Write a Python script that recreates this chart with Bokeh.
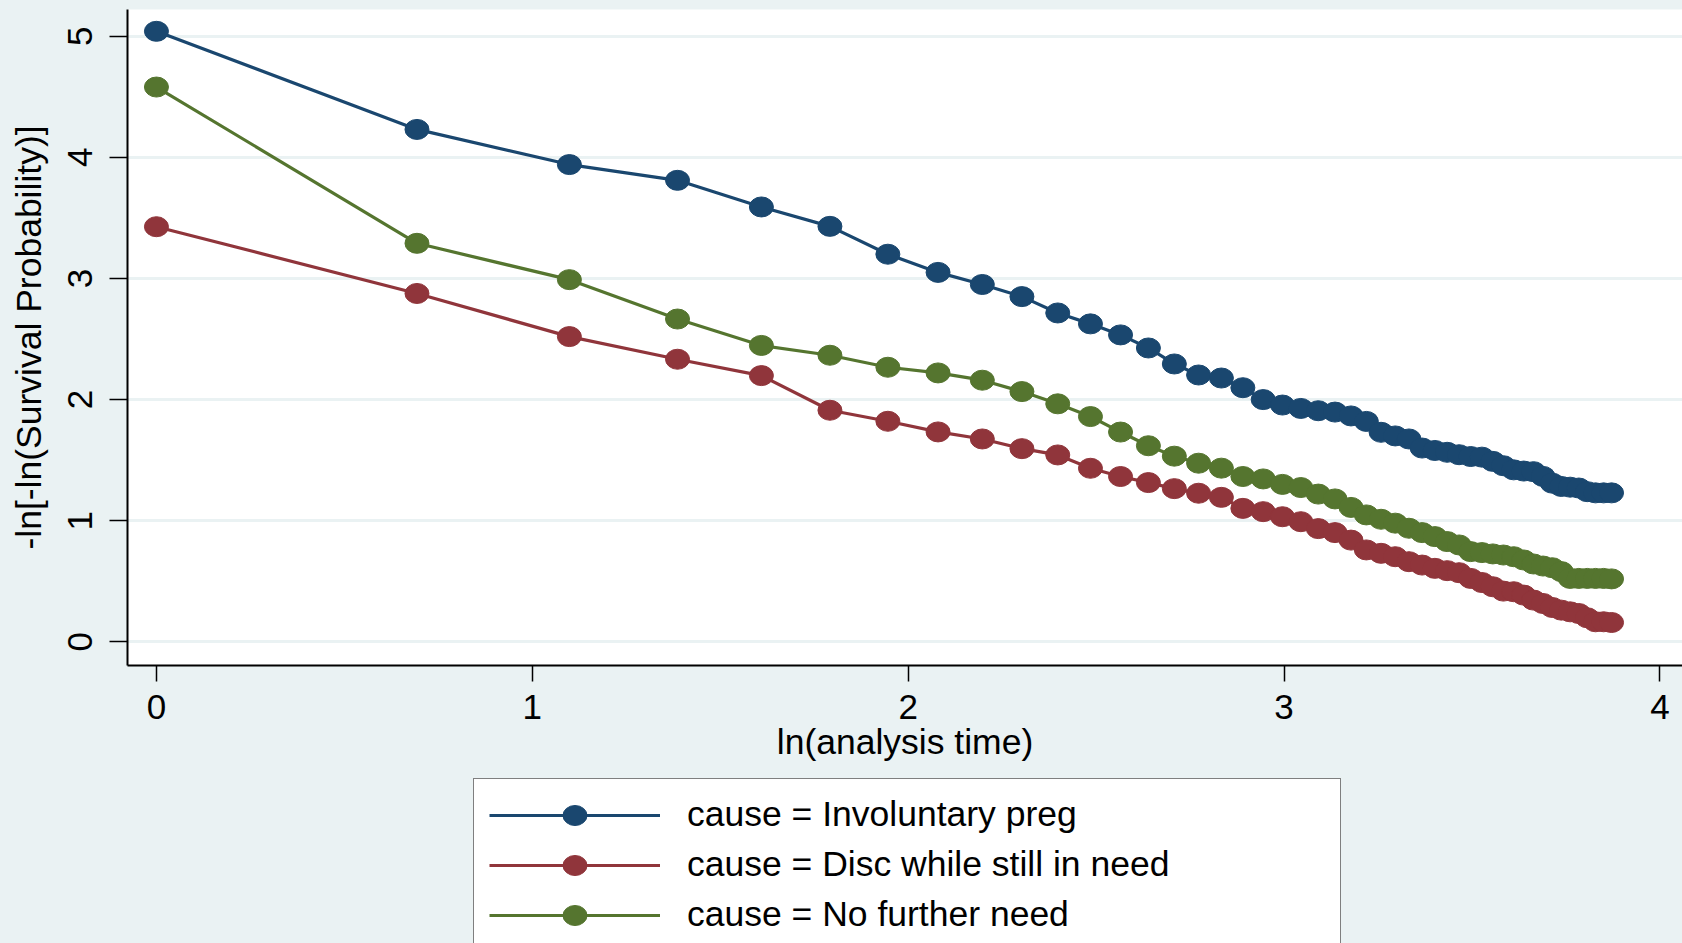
import numpy as np
from bokeh.plotting import figure
from bokeh.layouts import column
from bokeh.models import Range1d, Legend, LegendItem, FixedTicker
from bokeh.embed import file_html
from bokeh.resources import INLINE

# analysis time (months) and the -ln[-ln(S)] estimates per cause
months = [1, 2, 3, 4, 5, 6, 7, 8, 9, 10, 11, 12, 13, 14, 15, 16, 17, 18, 19, 20,
          21, 22, 23, 24, 25, 26, 27, 28, 29, 30, 31, 32, 33, 34, 35, 36, 37, 38,
          39, 40, 41, 42, 43, 44, 45, 46, 47, 48]

involuntary_preg = [5.04, 4.23, 3.94, 3.81, 3.59, 3.43, 3.20, 3.05, 2.95, 2.85,
                    2.715, 2.625, 2.534, 2.426, 2.294, 2.203, 2.178, 2.098, 2.00, 1.955,
                    1.927, 1.908, 1.897, 1.865, 1.82, 1.73, 1.70, 1.675, 1.60, 1.58,
                    1.565, 1.545, 1.53, 1.525, 1.49, 1.454, 1.42, 1.41, 1.405, 1.366,
                    1.31, 1.283, 1.277, 1.27, 1.24, 1.23, 1.23, 1.23]

disc_still_in_need = [3.427, 2.876, 2.52, 2.333, 2.198, 1.912, 1.821, 1.733, 1.675, 1.595,
                      1.543, 1.433, 1.365, 1.315, 1.265, 1.227, 1.193, 1.102, 1.075, 1.033,
                      0.992, 0.935, 0.902, 0.84, 0.759, 0.731, 0.703, 0.662, 0.634, 0.607,
                      0.588, 0.571, 0.524, 0.49, 0.455, 0.419, 0.414, 0.386, 0.345, 0.317,
                      0.284, 0.262, 0.248, 0.234, 0.199, 0.166, 0.166, 0.16]

no_further_need = [4.58, 3.29, 2.99, 2.665, 2.447, 2.366, 2.267, 2.22, 2.16, 2.066,
                   1.965, 1.86, 1.732, 1.619, 1.533, 1.475, 1.434, 1.365, 1.345, 1.30,
                   1.274, 1.22, 1.18, 1.11, 1.048, 1.012, 0.98, 0.938, 0.902, 0.869,
                   0.828, 0.80, 0.745, 0.737, 0.726, 0.717, 0.703, 0.676, 0.643, 0.626,
                   0.612, 0.58, 0.524, 0.524, 0.524, 0.524, 0.524, 0.52]

series_labels = ["cause = Involuntary preg",
                 "cause = Disc while still in need",
                 "cause = No further need"]
series_values = [involuntary_preg, disc_still_in_need, no_further_need]
series_colors = ["#1A476F", "#90353B", "#55752F"]

x_ticks = [0, 1, 2, 3, 4]
y_ticks = [0, 1, 2, 3, 4, 5]

x_title = "ln(analysis time)"
y_title = "-ln[-ln(Survival Probability)]"

FONT = "Liberation Sans"
BG = "#EAF2F3"
TOP_H = 776
LEG_H = 943 - TOP_H

ln_time = np.log(np.array(months, dtype=float))

p = figure(width=1682, height=TOP_H, output_backend="svg", toolbar_location=None,
           x_range=Range1d(-0.077, 4.06), y_range=Range1d(-0.195, 5.22),
           min_border_left=127, min_border_right=0, min_border_top=9,
           min_border_bottom=TOP_H - 665,
           background_fill_color="white", border_fill_color=BG,
           outline_line_color=None)

# grid
p.xgrid.visible = False
p.ygrid.ticker = FixedTicker(ticks=y_ticks)
p.ygrid.grid_line_color = BG
p.ygrid.grid_line_width = 3

# axes
for ax in (p.xaxis[0], p.yaxis[0]):
    ax.axis_line_color = "black"
    ax.axis_line_width = 2
    ax.major_tick_line_color = "black"
    ax.major_tick_line_width = 1.5
    ax.major_tick_in = 0
    ax.minor_tick_line_color = None
    ax.major_label_text_font = FONT
    ax.major_label_text_font_size = "35px"
    ax.major_label_text_color = "black"
    ax.axis_label_text_font = FONT
    ax.axis_label_text_font_size = "35.5px"
    ax.axis_label_text_font_style = "normal"
    ax.axis_label_text_color = "black"

p.xaxis.ticker = FixedTicker(ticks=x_ticks)
p.xaxis.major_tick_out = 16
p.xaxis.major_label_standoff = 13
p.xaxis.axis_label = x_title
p.xaxis.axis_label_standoff = 0

p.yaxis.ticker = FixedTicker(ticks=y_ticks)
p.yaxis.major_tick_out = 18
p.yaxis.major_label_orientation = "vertical"
p.yaxis.major_label_standoff = 17
p.yaxis.axis_label = y_title
p.yaxis.axis_label_standoff = 17

for vals, col in zip(series_values, series_colors):
    p.line(ln_time, vals, line_color=col, line_width=3.2)
    p.ellipse(ln_time, vals, width=24, height=20,
              width_units="screen", height_units="screen",
              fill_color=col, line_color=col)

# legend strip below the plot (same series, viewed outside its range so only the key shows)
q = figure(width=1682, height=LEG_H, output_backend="svg", toolbar_location=None,
           x_range=Range1d(100, 101), y_range=Range1d(100, 101),
           x_axis_type=None, y_axis_type=None,
           min_border_left=0, min_border_right=0, min_border_top=0, min_border_bottom=0,
           background_fill_color=BG, border_fill_color=BG, outline_line_color=None)
q.xgrid.visible = False
q.ygrid.visible = False

items = []
for label, vals, col in zip(series_labels, series_values, series_colors):
    ln = q.line(ln_time, vals, line_color=col, line_width=3.2)
    mk = q.ellipse(ln_time, vals, width=24, height=20,
                   width_units="screen", height_units="screen",
                   fill_color=col, line_color=col)
    items.append(LegendItem(label=label, renderers=[ln, mk]))

legend = Legend(items=items, location=(346, -8), orientation="vertical",
                padding=15, spacing=9, margin=0,
                glyph_width=171, glyph_height=30, label_height=30,
                label_width=638, label_standoff=27,
                label_text_font=FONT, label_text_font_size="35.5px",
                label_text_color="black",
                border_line_color="black", border_line_width=1.5,
                background_fill_color="white", background_fill_alpha=1.0)
q.add_layout(legend, "center")

layout = column(p, q, spacing=0, styles={"background-color": BG})
open("out.html", "w").write(file_html(layout, INLINE))
